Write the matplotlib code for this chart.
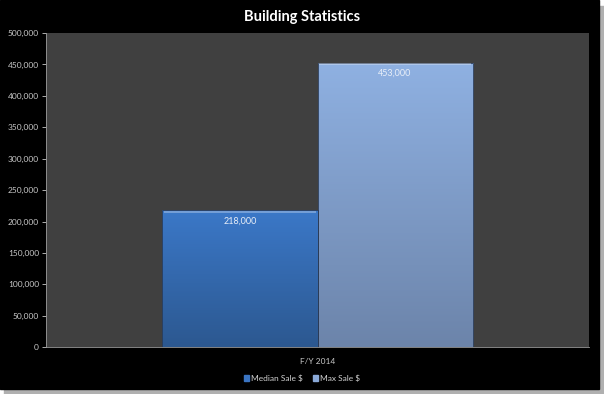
import numpy as np
import matplotlib.pyplot as plt
from matplotlib.colors import LinearSegmentedColormap

plt.rcParams['font.family'] = ['Lato', 'DejaVu Sans']

category = "F/Y 2014"
series = ["Median Sale $", "Max Sale $"]
values = [218000, 453000]
yticks = [0, 50000, 100000, 150000, 200000, 250000, 300000, 350000, 400000, 450000, 500000]

# top / bottom colours of each bar's gradient
grads = [("#3b78c8", "#2c5890"), ("#8fb1e2", "#6c84aa")]
legend_cols = ["#3a74c2", "#8aa9d8"]

fig = plt.figure(figsize=(6.04, 3.94), dpi=100, facecolor="white")
# black chart area with a soft shadow
fig.patches.append(plt.Rectangle((0.006, 0.0), 0.994, 0.985, transform=fig.transFigure,
                                 color="#b0b0b0", zorder=-3))
fig.patches.append(plt.Rectangle((0.0, 0.012), 0.991, 0.988, transform=fig.transFigure,
                                 color="black", zorder=-2))

ax = fig.add_axes([0.0762, 0.119, 0.899, 0.797])
ax.set_facecolor("#404040")

xs = [-0.5, 0.5]
bars = ax.bar(xs, values, width=1.0, color="none", edgecolor="#2a3a55", linewidth=0.6, zorder=3)
for b, (top, bot), v in zip(bars, grads, values):
    cmap = LinearSegmentedColormap.from_list("g", [bot, top])
    x0, w = b.get_x(), b.get_width()
    im = ax.imshow(np.linspace(0, 1, 256).reshape(-1, 1), cmap=cmap, origin="lower",
                   extent=[x0, x0 + w, 0, v], aspect="auto", zorder=2)
    im.set_clip_path(b)
    # light bevel along top of bar
    ax.plot([x0 + 0.01, x0 + w - 0.01], [v - 2500, v - 2500], color="white", alpha=0.35,
            lw=1.2, zorder=4, solid_capstyle="butt")
    ax.text(x0 + w / 2, v - 17000, f"{v:,}", ha="center", va="center",
            color="#e8eef8", fontsize=6.5, zorder=5)

ax.set_xlim(-1.75, 1.75)
ax.set_ylim(0, 500000)
ax.set_yticks(yticks)
ax.set_yticklabels([f"{t:,}" for t in yticks])
ax.set_xticks([0])
ax.set_xticklabels([category])
ax.tick_params(axis="y", colors="#c8c8c8", labelsize=6, length=3, width=0.6, pad=2)
ax.tick_params(axis="x", colors="#c8c8c8", labelsize=6, length=0, pad=8)
for s in ["top", "right"]:
    ax.spines[s].set_visible(False)
for s in ["left", "bottom"]:
    ax.spines[s].set_color("#9a9a9a")
    ax.spines[s].set_linewidth(0.6)

fig.text(0.5, 0.958, "Building Statistics", ha="center", va="center",
         color="white", fontsize=10.5, fontweight="bold")

handles = [plt.Rectangle((0, 0), 1, 1, color=c) for c in legend_cols]
leg = fig.legend(handles, series, loc="center", bbox_to_anchor=(0.5, 0.04), ncol=2,
                 frameon=False, fontsize=6, handlelength=0.6, handleheight=0.6,
                 handletextpad=0.3, columnspacing=1.2)
for t in leg.get_texts():
    t.set_color("#d0d0d0")

fig.savefig("out.png", dpi=100, facecolor=fig.get_facecolor())
